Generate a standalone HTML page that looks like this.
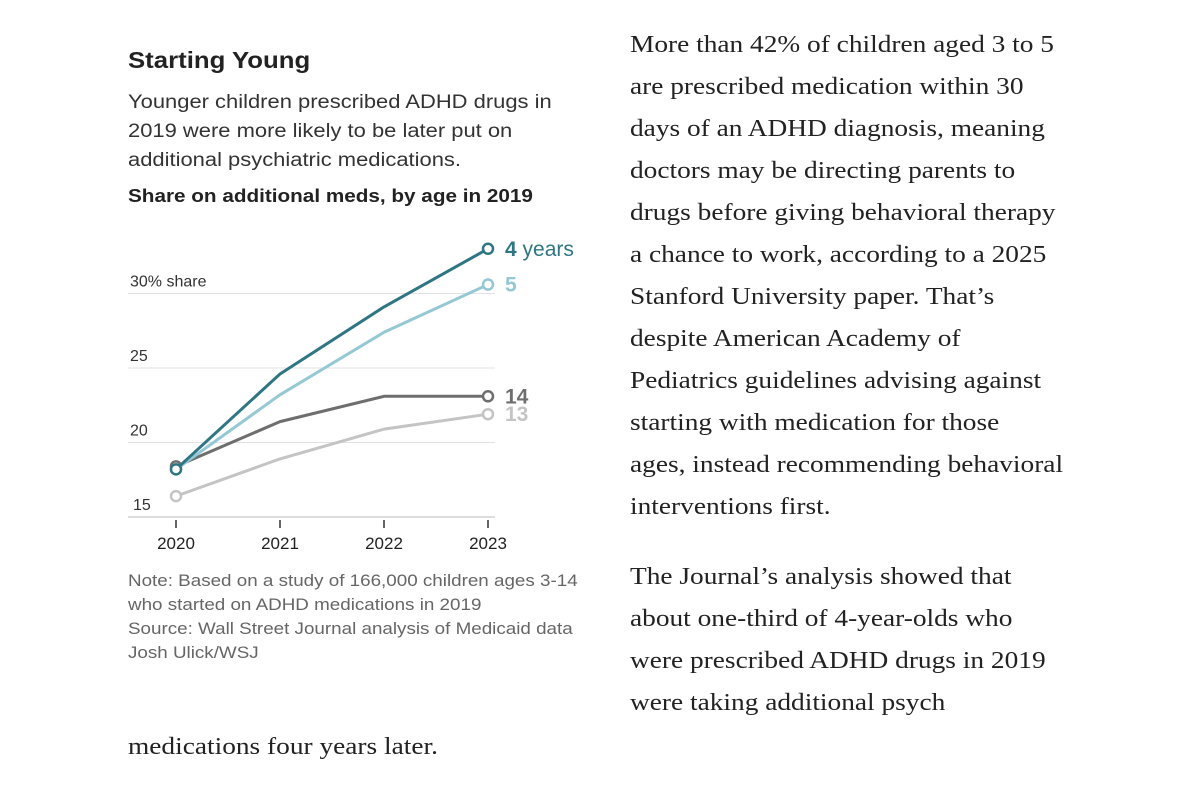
<!DOCTYPE html>
<html><head><meta charset="utf-8"><style>
body{margin:0;width:1199px;height:787px;background:#fff;position:relative;overflow:hidden;font-family:"Liberation Sans",sans-serif;color:#222}
.a{position:absolute;white-space:nowrap;transform-origin:0 0}
.t{left:128px;top:47px;font-size:23px;font-weight:bold;transform:scaleX(1.12)}
.s{left:128px;top:88px;font-size:19px;line-height:29px;color:#333;transform:scaleX(1.155)}
.h{left:128px;top:186px;font-size:18px;font-weight:bold;transform:scaleX(1.15)}
.n{left:128px;top:569px;font-size:16.5px;line-height:24px;color:#666;transform:scaleX(1.14)}
.p{font-family:"Liberation Serif",serif;font-size:24px;line-height:42px;color:#222;left:630px;transform:scaleX(1.14)}
</style></head><body>
<div class="a t">Starting Young</div>
<div class="a s">Younger children prescribed ADHD drugs in<br>2019 were more likely to be later put on<br>additional psychiatric medications.</div>
<div class="a h">Share on additional meds, by age in 2019</div>
<svg class="a" style="left:0;top:0" width="600" height="560" id="chart"></svg>
<div class="a n">Note: Based on a study of 166,000 children ages 3-14<br>who started on ADHD medications in 2019<br>Source: Wall Street Journal analysis of Medicaid data<br>Josh Ulick/WSJ</div>
<div class="a p" style="top:24px">More than 42% of children aged 3 to 5<br>are prescribed medication within 30<br>days of an ADHD diagnosis, meaning<br>doctors may be directing parents to<br>drugs before giving behavioral therapy<br>a chance to work, according to a 2025<br>Stanford University paper. That’s<br>despite American Academy of<br>Pediatrics guidelines advising against<br>starting with medication for those<br>ages, instead recommending behavioral<br>interventions first.</div>
<div class="a p" style="top:556px">The Journal’s analysis showed that<br>about one-third of 4-year-olds who<br>were prescribed ADHD drugs in 2019<br>were taking additional psych</div>
<div class="a p" style="left:128px;top:726px">medications four years later.</div>
<script>
const years=["2020","2021","2022","2023"];
const yTicks=[15,20,25,30];
const seriesNames=["13","14","5","4 years"];
const s13=[16.4,18.9,20.9,21.9];
const s14=[18.4,21.4,23.1,23.1];
const s5=[18.2,23.2,27.4,30.6];
const s4=[18.2,24.6,29.1,33.0];
const svg=document.getElementById('chart');
const NS="http://www.w3.org/2000/svg";
const x=i=>176+i*104;
const y=v=>517-(v-15)*14.9;
function mk(t,a){const e=document.createElementNS(NS,t);for(const k in a)e.setAttribute(k,a[k]);svg.appendChild(e);return e;}
yTicks.forEach((t,i)=>{
 const g=mk('line',{x1:128,x2:495,y1:y(t),y2:y(t),stroke:i==0?'#bbb':'#e2e2e2','stroke-width':1});
 
 
 const l=mk('text',{x:i==0?133:130,y:y(t)-7,'font-size':16,fill:'#333','font-family':'Liberation Sans'});
 l.textContent=i==3?'30% share':String(t);
 
 
});
years.forEach((yr,i)=>{
 const tk=mk('line',{x1:x(i),x2:x(i),y1:y(15)+3,y2:y(15)+11,stroke:'#333','stroke-width':1.5});
 
 
 const l=mk('text',{x:x(i),y:549,'font-size':17,fill:'#222','text-anchor':'middle','font-family':'Liberation Sans'});
 l.textContent=yr;
 
 
});
const series=[[s13,'#c4c4c4'],[s14,'#6e6e6e'],[s5,'#94c8d4'],[s4,'#2f7684']];
series.forEach(([d,c],k)=>{
 const p=mk('polyline',{points:d.map((v,i)=>x(i)+','+y(v)).join(' '),fill:'none',stroke:c,'stroke-width':3,'stroke-linejoin':'round'});
 
 
 [0,3].forEach(i=>{
  const m=mk('circle',{cx:x(i),cy:y(d[i]),r:5,fill:'#fff',stroke:c,'stroke-width':2.5});
  
  
 });
 const t=mk('text',{x:505,y:y(d[3])+7,'font-size':21,fill:c,'font-family':'Liberation Sans','font-weight':'bold'});
 if(k==3){t.innerHTML='4<tspan font-weight="normal"> years</tspan>';}else t.textContent=seriesNames[k];
 
 
});
</script>
</body></html>
